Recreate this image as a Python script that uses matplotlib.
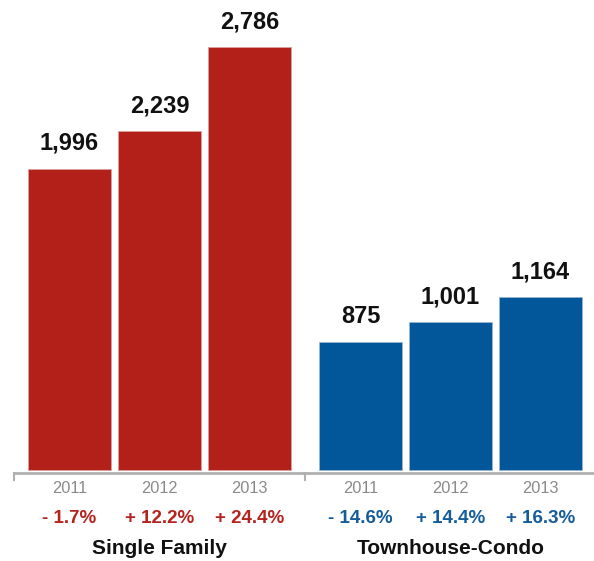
import matplotlib.pyplot as plt

plt.rcParams['font.family'] = ['Liberation Sans', 'DejaVu Sans']

years = ["2011", "2012", "2013"]
groups = ["Single Family", "Townhouse-Condo"]
single_family = [1996, 2239, 2786]
townhouse = [875, 1001, 1164]
sf_change = ["- 1.7%", "+ 12.2%", "+ 24.4%"]
th_change = ["- 14.6%", "+ 14.4%", "+ 16.3%"]

red = "#b22019"
blue = "#02569a"
red_txt = "#b4231d"
blue_txt = "#155c9a"

fig = plt.figure(figsize=(5.94, 5.61), dpi=100)
ax = fig.add_axes([0, 0, 1, 1])
ax.set_xlim(-0.772, 5.828)
ax.set_ylim(-547, 3091)
ax.axis("off")

w = 0.922
gap = 3.233
x_sf = [0, 1, 2]
x_th = [gap + i for i in range(3)]

# bars sit a little above the value axis zero, like the original
base = 43
ax.bar(x_sf, [v - base for v in single_family], bottom=base, width=w,
       color=red, edgecolor="#d9a09c", linewidth=0.6)
ax.bar(x_th, [v - base for v in townhouse], bottom=base, width=w,
       color=blue, edgecolor="#9bb5cf", linewidth=0.6)

# value labels
for xs, vals in [(x_sf, single_family), (x_th, townhouse)]:
    for x, v in zip(xs, vals):
        ax.text(x, v + 165, f"{v:,}", ha="center", va="center",
                fontsize=17, fontweight="bold", color="#111111")

# axis line with small ticks
ax.plot([-0.617, 5.828], [23, 23], color="#b0b0b0", lw=2, solid_capstyle="butt")
for tx in [-0.617, 2.617]:
    ax.plot([tx, tx], [23, -22], color="#b0b0b0", lw=1.5)

# year labels, changes, group names
for xs, changes, col, name in [(x_sf, sf_change, red_txt, groups[0]),
                               (x_th, th_change, blue_txt, groups[1])]:
    for x, yr, ch in zip(xs, years, changes):
        ax.text(x, -76, yr, ha="center", va="center", fontsize=11.8, color="#8a8a8a")
        ax.text(x, -270, ch, ha="center", va="center", fontsize=13.5,
                fontweight="bold", color=col)
    ax.text(xs[1], -465, name, ha="center", va="center", fontsize=15,
            fontweight="bold", color="#111111")

fig.savefig("out.png", dpi=100, facecolor="white")
